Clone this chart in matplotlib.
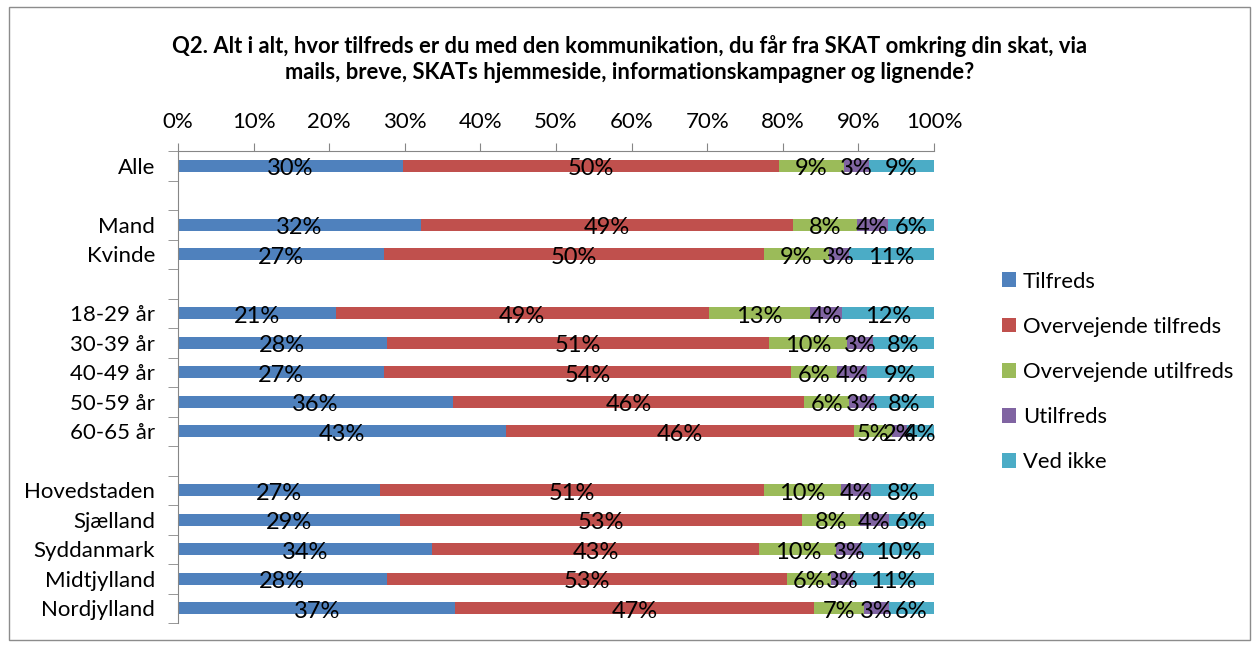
import matplotlib
matplotlib.use('Agg')
import matplotlib.pyplot as plt
from matplotlib.patches import Rectangle
import numpy as np

plt.rcParams['font.family'] = ['Lato', 'DejaVu Sans']

# Rows top to bottom, '' = spacer row between groups
categories = ['Alle', '', 'Mand', 'Kvinde', '',
              '18-29 år', '30-39 år', '40-49 år', '50-59 år', '60-65 år', '',
              'Hovedstaden', 'Sjælland', 'Syddanmark', 'Midtjylland', 'Nordjylland']

series_names = ['Tilfreds', 'Overvejende tilfreds', 'Overvejende utilfreds', 'Utilfreds', 'Ved ikke']
series_colors = ['#4F81BD', '#C0504D', '#9BBB59', '#8064A2', '#4BACC6']

# shares in %, None for spacer rows
tilfreds = [29.7, None, 32.1, 27.3, None, 20.9, 27.6, 27.2, 36.4, 43.4, None, 26.7, 29.4, 33.6, 27.6, 36.7]
overv_tilfreds = [49.8, None, 49.3, 50.2, None, 49.3, 50.6, 53.9, 46.4, 46.0, None, 50.8, 53.2, 43.3, 53.0, 47.4]
overv_utilfreds = [8.6, None, 8.4, 8.6, None, 13.4, 10.3, 6.1, 6.0, 5.1, None, 10.2, 7.6, 10.2, 5.8, 6.6]
utilfreds = [3.3, None, 4.1, 2.6, None, 4.2, 3.4, 3.9, 3.3, 1.9, None, 4.0, 3.8, 3.3, 2.9, 3.3]
ved_ikke = [8.6, None, 6.1, 11.3, None, 12.2, 8.1, 8.9, 7.9, 3.6, None, 8.3, 6.0, 9.6, 10.7, 6.0]

title = ("Q2. Alt i alt, hvor tilfreds er du med den kommunikation, du får fra SKAT omkring din skat, via\n"
         "mails, breve, SKATs hjemmeside, informationskampagner og lignende?")

W, H = 1258, 648
fig = plt.figure(figsize=(W / 100, H / 100), dpi=100, facecolor='white')
ax = fig.add_axes([178 / W, 1 - 623 / H, (934 - 178) / W, (623 - 151) / H])

# chart border
fig.patches.append(Rectangle((9 / W, 1 - 640 / H), (1250 - 9) / W, (640 - 7) / H,
                             transform=fig.transFigure, fill=False, edgecolor='#8c8c8c', linewidth=1))

all_series = [tilfreds, overv_tilfreds, overv_utilfreds, utilfreds, ved_ikke]
y = np.arange(len(categories))
left = np.zeros(len(categories))
lab_size = 16
val_size = 17
for name, vals, col in zip(series_names, all_series, series_colors):
    w = np.array([v if v is not None else 0 for v in vals])
    ax.barh(y, w, left=left, height=0.41, color=col, label=name, edgecolor='none')
    for i, v in enumerate(vals):
        if v is not None:
            ax.text(left[i] + v / 2, y[i] + 0.1, f"{v:.0f}%", ha='center', va='center',
                    fontsize=val_size, color='black', zorder=5)
    left += w

ax.set_xlim(0, 100)
ax.set_ylim(len(categories) - 0.5, -0.5)
ax.xaxis.tick_top()
ax.set_xticks(np.arange(0, 101, 10))
ax.set_xticklabels([f"{t}%" for t in range(0, 101, 10)], fontsize=lab_size)
ax.tick_params(axis='x', direction='out', length=6, color='#868686', pad=8)

ax.set_yticks(y)
ax.set_yticklabels(categories, fontsize=lab_size)
ax.set_yticks(np.arange(-0.5, len(categories), 1), minor=True)
ax.tick_params(axis='y', which='major', length=0, pad=16.5)
ax.tick_params(axis='y', which='minor', direction='out', length=7, color='#868686')

for s in ['right', 'bottom']:
    ax.spines[s].set_visible(False)
for s in ['top', 'left']:
    ax.spines[s].set_color('#868686')
ax.set_facecolor('white')

fig.text(630 / W, 1 - 59 / H, title, ha='center', va='center', fontsize=15.8,
         fontweight='bold', linespacing=1.35)

fig.legend(loc='center left', bbox_to_anchor=(1002 / W, 1 - 372 / H), frameon=False,
           fontsize=15.8, borderpad=0, borderaxespad=0, handlelength=0.65,
           handleheight=0.65, handletextpad=0.3, labelspacing=1.15)

plt.savefig('out.png', dpi=100, facecolor='white')
